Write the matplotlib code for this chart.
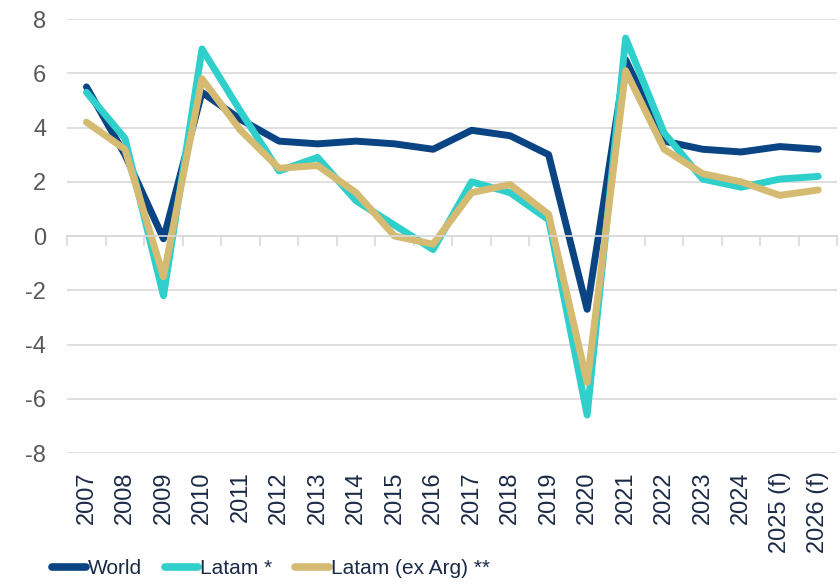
import numpy as np
import matplotlib.pyplot as plt
from matplotlib.ticker import FixedLocator

plt.rcParams['font.family'] = ['Liberation Sans', 'DejaVu Sans']

years = ['2007', '2008', '2009', '2010', '2011', '2012', '2013', '2014', '2015', '2016',
         '2017', '2018', '2019', '2020', '2021', '2022', '2023', '2024', '2025 (f)', '2026 (f)']
world = [5.5, 3.0, -0.1, 5.3, 4.3, 3.5, 3.4, 3.5, 3.4, 3.2,
         3.9, 3.7, 3.0, -2.7, 6.5, 3.5, 3.2, 3.1, 3.3, 3.2]
latam = [5.3, 3.6, -2.2, 6.9, 4.6, 2.4, 2.9, 1.3, 0.4, -0.5,
         2.0, 1.6, 0.6, -6.6, 7.3, 3.8, 2.1, 1.8, 2.1, 2.2]
latam_ex_arg = [4.2, 3.2, -1.5, 5.8, 3.9, 2.5, 2.6, 1.6, 0.0, -0.3,
                1.6, 1.9, 0.8, -5.4, 6.1, 3.2, 2.3, 2.0, 1.5, 1.7]

x = np.arange(len(years))

fig = plt.figure(figsize=(8.4, 5.84), dpi=100)
ax = fig.add_axes([0.08, 0.2243, 0.917, 0.743])

lw = 5
ax.plot(x, world, color='#0b4483', lw=lw, solid_capstyle='round', solid_joinstyle='round', label='World')
ax.plot(x, latam, color='#2fcfcc', lw=lw, solid_capstyle='round', solid_joinstyle='round', label='Latam *')
ax.plot(x, latam_ex_arg, color='#d5bb72', lw=lw, solid_capstyle='round', solid_joinstyle='round',
        label='Latam (ex Arg) **')

ax.set_ylim(-8, 8)
ax.set_xlim(-0.5, len(years) - 0.5)
ax.set_yticks(np.arange(-8, 9, 2))
ax.set_yticklabels([str(v) for v in range(-8, 9, 2)])
ax.yaxis.grid(True, color='#d9d9d9', lw=1.2)
ax.set_axisbelow(True)
ax.tick_params(axis='y', length=0, labelsize=17, labelcolor='#595959', pad=15)

for s in ['top', 'right', 'left']:
    ax.spines[s].set_visible(False)
ax.spines['bottom'].set_position(('data', 0))
ax.spines['bottom'].set_color('#d9d9d9')
ax.spines['bottom'].set_linewidth(1.2)
ax.xaxis.set_major_locator(FixedLocator(np.arange(-0.5, len(years), 1)))
ax.tick_params(axis='x', length=7, width=1.2, color='#d9d9d9', labelbottom=False)

sec = ax.secondary_xaxis(0)
sec.set_xticks(x)
sec.set_xticklabels(years, rotation=90)
sec.spines['bottom'].set_visible(False)
sec.tick_params(length=0, labelsize=17, labelcolor='#1b2a47', pad=13)

leg = fig.legend(loc='lower left', bbox_to_anchor=(0.04, -0.022), ncol=3, frameon=False,
                 fontsize=15, handlelength=1.6, handletextpad=0.1, columnspacing=1.1,
                 labelcolor='#1b2a47')
for h in leg.get_lines():
    h.set_linewidth(5.5)

fig.savefig('out.png', dpi=100)
